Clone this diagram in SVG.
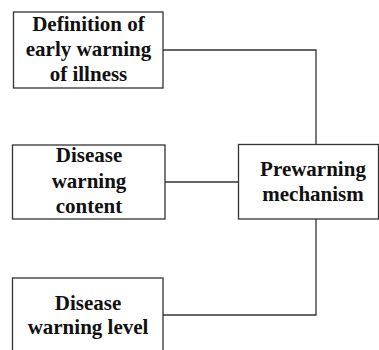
<svg xmlns="http://www.w3.org/2000/svg" width="379" height="350" viewBox="0 0 379 350">
<style>
.box{fill:#fff;stroke:#333;stroke-width:1.3}
.t{font-family:"Liberation Serif","Times New Roman",serif;font-weight:bold;font-size:21px;fill:#111;text-anchor:middle}
.c{fill:none;stroke:#333;stroke-width:1.3}
</style>
<rect width="379" height="350" fill="#fff"/>
<g id="connectors">
<polyline class="c" points="163,50 316,50 316,144"/>
<line class="c" x1="165" y1="182" x2="238" y2="182"/>
<polyline class="c" points="163,315 316,315 316,219"/>
</g>
<g id="n1">
<rect class="box" x="13.5" y="12" width="149.5" height="76"/>
<text class="t" x="88.5" y="31">Definition of</text>
<text class="t" x="88.5" y="56">early warning</text>
<text class="t" x="88.5" y="81">of illness</text>
</g>
<g id="n2">
<rect class="box" x="12.5" y="145" width="152.5" height="74"/>
<text class="t" x="89" y="162">Disease</text>
<text class="t" x="89" y="188">warning</text>
<text class="t" x="89" y="213">content</text>
</g>
<g id="n3">
<rect class="box" x="12.5" y="278" width="150.5" height="80"/>
<text class="t" x="88" y="310">Disease</text>
<text class="t" x="88" y="334">warning level</text>
</g>
<g id="n4">
<rect class="box" x="238.5" y="144.5" width="140" height="74.5"/>
<text class="t" x="313" y="176">Prewarning</text>
<text class="t" x="313" y="201">mechanism</text>
</g>
</svg>
